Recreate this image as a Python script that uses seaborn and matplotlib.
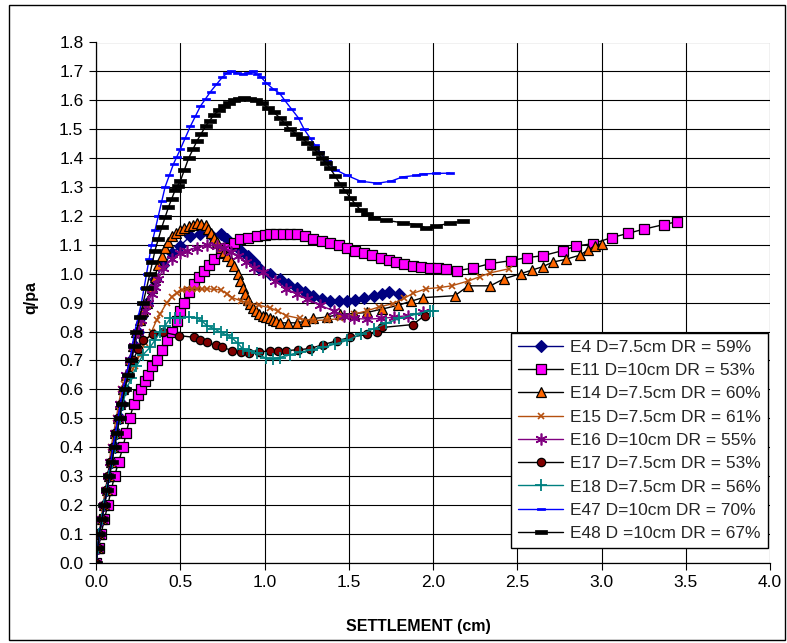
import numpy as np
import pandas as pd
import matplotlib
matplotlib.use("Agg")
import matplotlib.pyplot as plt
from matplotlib.patches import Rectangle
import seaborn as sns

# ---- load-settlement test series (settlement in cm, normalised pressure q/pa) ----
labels = [
    "E4 D=7.5cm DR = 59%",
    "E11 D=10cm DR = 53%",
    "E14 D=7.5cm DR = 60%",
    "E15 D=7.5cm DR = 61%",
    "E16 D=10cm DR = 55%",
    "E17 D=7.5cm DR = 53%",
    "E18 D=7.5cm DR = 56%",
    "E47 D=10cm DR = 70%",
    "E48 D =10cm DR = 67%",
]

e4_x = [0, 0.01, 0.02, 0.035, 0.05, 0.065, 0.08, 0.095, 0.11, 0.125, 0.14, 0.155, 0.17, 0.19, 0.21, 0.23, 0.25,
        0.27, 0.3, 0.33, 0.35, 0.4, 0.45, 0.5, 0.56, 0.62, 0.68, 0.74, 0.78, 0.82, 0.86, 0.9, 0.94, 0.97,
        1.03, 1.09, 1.14, 1.19, 1.24, 1.29, 1.34, 1.39, 1.44, 1.49, 1.54, 1.59, 1.65, 1.7, 1.74, 1.8]
e4_y = [0, 0.05, 0.1, 0.15, 0.2, 0.25, 0.3, 0.35, 0.4, 0.45, 0.5, 0.55, 0.6, 0.65, 0.7, 0.75, 0.8,
        0.85, 0.9, 0.95, 0.98, 1.03, 1.07, 1.097, 1.13, 1.137, 1.135, 1.137, 1.12, 1.1, 1.08, 1.06, 1.04, 1.02,
        1.0, 0.98, 0.965, 0.95, 0.935, 0.924, 0.912, 0.907, 0.905, 0.907, 0.91, 0.917, 0.924, 0.93, 0.935, 0.93]

e11_x = [0, 0.015, 0.03, 0.05, 0.07, 0.09, 0.11, 0.135, 0.16, 0.18, 0.2, 0.225, 0.25, 0.27, 0.29, 0.31, 0.335,
         0.36, 0.39, 0.42, 0.45, 0.48, 0.5, 0.52, 0.55, 0.58, 0.61, 0.64, 0.67, 0.7, 0.74, 0.78, 0.82, 0.855,
         0.9, 0.955, 1.0, 1.03, 1.07, 1.11, 1.15, 1.19, 1.24, 1.29, 1.34, 1.39, 1.44, 1.49, 1.54, 1.59, 1.64,
         1.69, 1.74, 1.78, 1.83, 1.88, 1.93, 1.98, 2.03, 2.08, 2.14, 2.24, 2.34, 2.46, 2.56, 2.65, 2.77, 2.85,
         2.95, 3.06, 3.16, 3.25, 3.37, 3.45]
e11_y = [0, 0.05, 0.1, 0.15, 0.2, 0.25, 0.3, 0.35, 0.4, 0.45, 0.5, 0.55, 0.58, 0.6, 0.63, 0.65, 0.68,
         0.7, 0.735, 0.77, 0.8, 0.837, 0.87, 0.9, 0.935, 0.965, 0.99, 1.01, 1.03, 1.05, 1.07, 1.09, 1.105, 1.12,
         1.125, 1.13, 1.135, 1.137, 1.138, 1.138, 1.137, 1.137, 1.13, 1.12, 1.112, 1.105, 1.098, 1.09, 1.08, 1.07, 1.063,
         1.056, 1.048, 1.04, 1.033, 1.027, 1.023, 1.02, 1.018, 1.017, 1.01, 1.02, 1.035, 1.045, 1.056, 1.062, 1.08, 1.096,
         1.104, 1.125, 1.14, 1.154, 1.17, 1.18]

e14_x = [0, 0.01, 0.02, 0.035, 0.05, 0.065, 0.08, 0.09, 0.1, 0.115, 0.13, 0.145, 0.16, 0.18, 0.2, 0.22, 0.24,
         0.26, 0.28, 0.3, 0.33, 0.35, 0.37, 0.39, 0.41, 0.43, 0.45, 0.475, 0.5, 0.525, 0.55, 0.575, 0.6, 0.625,
         0.65, 0.665, 0.68, 0.7, 0.72, 0.74, 0.76, 0.78, 0.8, 0.82, 0.84, 0.855, 0.87, 0.885, 0.9, 0.915, 0.93,
         0.95, 0.97, 0.99, 1.01, 1.03, 1.05, 1.07, 1.09, 1.14, 1.19, 1.24, 1.29, 1.37, 1.45, 1.53, 1.61, 1.7,
         1.79, 1.87, 1.94, 2.13, 2.21, 2.34, 2.42, 2.52, 2.59, 2.65, 2.71, 2.79, 2.87, 2.92, 2.96, 3.0]
e14_y = [0, 0.05, 0.1, 0.15, 0.2, 0.25, 0.3, 0.35, 0.4, 0.45, 0.5, 0.55, 0.6, 0.65, 0.7, 0.75, 0.8,
         0.84, 0.87, 0.9, 0.95, 0.99, 1.03, 1.06, 1.09, 1.11, 1.13, 1.14, 1.15, 1.158, 1.165, 1.17, 1.175, 1.172,
         1.17, 1.155, 1.14, 1.125, 1.11, 1.09, 1.075, 1.06, 1.045, 1.025, 1.0, 0.975, 0.95, 0.93, 0.91, 0.895, 0.88,
         0.87, 0.86, 0.855, 0.85, 0.845, 0.84, 0.835, 0.83, 0.83, 0.83, 0.835, 0.845, 0.85, 0.86, 0.862, 0.866, 0.878,
         0.89, 0.905, 0.917, 0.924, 0.958, 0.958, 0.982, 1.0, 1.013, 1.024, 1.04, 1.05, 1.064, 1.082, 1.096, 1.104]

e15_x = [0, 0.01, 0.02, 0.03, 0.04, 0.055, 0.07, 0.08, 0.09, 0.105, 0.12, 0.135, 0.15, 0.165, 0.18, 0.205, 0.23,
         0.26, 0.29, 0.33, 0.36, 0.38, 0.42, 0.45, 0.48, 0.51, 0.54, 0.57, 0.6, 0.63, 0.66, 0.7, 0.74, 0.78,
         0.81, 0.86, 0.9, 0.97, 1.03, 1.08, 1.13, 1.21, 1.29, 1.37, 1.45, 1.53, 1.61, 1.68, 1.76, 1.83, 1.88,
         1.96, 2.04, 2.11, 2.21, 2.28, 2.34, 2.45]
e15_y = [0, 0.05, 0.1, 0.15, 0.2, 0.25, 0.3, 0.35, 0.4, 0.45, 0.5, 0.55, 0.6, 0.62, 0.64, 0.66, 0.68,
         0.72, 0.76, 0.8, 0.84, 0.86, 0.9, 0.92, 0.934, 0.942, 0.948, 0.948, 0.948, 0.946, 0.948, 0.946, 0.944, 0.93,
         0.917, 0.906, 0.9, 0.89, 0.883, 0.87, 0.855, 0.845, 0.838, 0.84, 0.845, 0.86, 0.872, 0.885, 0.896, 0.915, 0.932,
         0.948, 0.952, 0.958, 0.975, 0.99, 1.003, 1.017]

e16_x = [0, 0.01, 0.02, 0.035, 0.05, 0.06, 0.07, 0.085, 0.1, 0.115, 0.13, 0.145, 0.16, 0.18, 0.2, 0.225, 0.25,
         0.27, 0.29, 0.31, 0.33, 0.35, 0.37, 0.4, 0.45, 0.5, 0.54, 0.6, 0.66, 0.72, 0.76, 0.8, 0.84, 0.89,
         0.94, 0.99, 1.06, 1.13, 1.19, 1.25, 1.33, 1.41, 1.47, 1.53, 1.61, 1.69, 1.77, 1.85, 1.94]
e16_y = [0, 0.05, 0.1, 0.15, 0.2, 0.25, 0.3, 0.35, 0.4, 0.45, 0.5, 0.55, 0.6, 0.65, 0.7, 0.75, 0.8,
         0.84, 0.87, 0.9, 0.93, 0.955, 0.98, 1.02, 1.05, 1.07, 1.08, 1.09, 1.1, 1.095, 1.09, 1.075, 1.06, 1.04,
         1.02, 1.005, 0.975, 0.948, 0.93, 0.914, 0.89, 0.872, 0.855, 0.845, 0.843, 0.845, 0.85, 0.855, 0.866]

e17_x = [0, 0.01, 0.02, 0.035, 0.05, 0.06, 0.07, 0.085, 0.1, 0.115, 0.13, 0.15, 0.17, 0.195, 0.22, 0.25, 0.28,
         0.34, 0.4, 0.49, 0.58, 0.62, 0.66, 0.71, 0.75, 0.81, 0.86, 0.91, 0.97, 1.03, 1.08, 1.13, 1.2, 1.27,
         1.35, 1.43, 1.51, 1.61, 1.67, 1.7, 1.88, 1.95]
e17_y = [0, 0.05, 0.1, 0.15, 0.2, 0.25, 0.3, 0.35, 0.4, 0.45, 0.5, 0.55, 0.6, 0.65, 0.7, 0.74, 0.77,
         0.79, 0.797, 0.786, 0.78, 0.77, 0.762, 0.752, 0.745, 0.734, 0.728, 0.724, 0.728, 0.734, 0.734, 0.734, 0.737, 0.741,
         0.755, 0.768, 0.78, 0.79, 0.797, 0.814, 0.824, 0.855]

e18_x = [0, 0.01, 0.02, 0.035, 0.05, 0.065, 0.08, 0.095, 0.11, 0.125, 0.14, 0.16, 0.18, 0.21, 0.24, 0.28, 0.32,
         0.35, 0.38, 0.41, 0.44, 0.47, 0.5, 0.55, 0.6, 0.63, 0.66, 0.7, 0.74, 0.78, 0.81, 0.84, 0.87, 0.91,
         0.955, 1.01, 1.05, 1.09, 1.15, 1.21, 1.28, 1.35, 1.42, 1.49, 1.57, 1.65, 1.72, 1.8, 1.9, 1.98, 2.0]
e18_y = [0, 0.05, 0.1, 0.15, 0.2, 0.25, 0.3, 0.35, 0.4, 0.45, 0.5, 0.55, 0.6, 0.64, 0.68, 0.72, 0.745,
         0.77, 0.797, 0.82, 0.845, 0.848, 0.848, 0.85, 0.848, 0.835, 0.82, 0.81, 0.797, 0.787, 0.776, 0.76, 0.741, 0.732,
         0.724, 0.707, 0.705, 0.71, 0.72, 0.728, 0.737, 0.745, 0.757, 0.769, 0.79, 0.81, 0.828, 0.845, 0.86, 0.872, 0.872]

e47_x = [0, 0.01, 0.02, 0.035, 0.05, 0.065, 0.08, 0.09, 0.1, 0.115, 0.13, 0.145, 0.16, 0.18, 0.2, 0.215, 0.23,
         0.25, 0.27, 0.285, 0.3, 0.315, 0.33, 0.35, 0.37, 0.39, 0.41, 0.435, 0.46, 0.48, 0.5, 0.53, 0.56, 0.59,
         0.62, 0.65, 0.68, 0.715, 0.75, 0.78, 0.8, 0.835, 0.87, 0.9, 0.93, 0.955, 0.98, 1.01, 1.05, 1.09, 1.12,
         1.16, 1.2, 1.235, 1.27, 1.3, 1.33, 1.37, 1.42, 1.49, 1.57, 1.67, 1.75, 1.82, 1.9, 1.94, 2.02, 2.1]
e47_y = [0, 0.05, 0.1, 0.15, 0.2, 0.25, 0.3, 0.35, 0.4, 0.45, 0.5, 0.55, 0.6, 0.65, 0.7, 0.75, 0.8,
         0.85, 0.9, 0.95, 1.0, 1.05, 1.1, 1.15, 1.2, 1.25, 1.3, 1.34, 1.38, 1.405, 1.43, 1.47, 1.51, 1.545,
         1.58, 1.605, 1.63, 1.655, 1.68, 1.695, 1.7, 1.695, 1.69, 1.695, 1.7, 1.69, 1.68, 1.66, 1.64, 1.624, 1.6,
         1.57, 1.54, 1.5, 1.47, 1.445, 1.42, 1.39, 1.36, 1.34, 1.32, 1.313, 1.32, 1.335, 1.34, 1.345, 1.347, 1.348]

e48_x = [0, 0.01, 0.02, 0.035, 0.05, 0.065, 0.08, 0.095, 0.11, 0.125, 0.14, 0.155, 0.17, 0.19, 0.21, 0.225, 0.24,
         0.26, 0.28, 0.3, 0.32, 0.335, 0.35, 0.37, 0.39, 0.41, 0.43, 0.45, 0.47, 0.485, 0.5, 0.525, 0.55, 0.575,
         0.6, 0.625, 0.65, 0.675, 0.7, 0.73, 0.76, 0.79, 0.82, 0.85, 0.88, 0.915, 0.95, 0.985, 1.02, 1.055, 1.09,
         1.12, 1.15, 1.185, 1.22, 1.255, 1.29, 1.315, 1.34, 1.365, 1.39, 1.42, 1.45, 1.48, 1.51, 1.54, 1.57, 1.61,
         1.65, 1.72, 1.82, 1.9, 1.96, 2.02, 2.1, 2.18]
e48_y = [0, 0.05, 0.1, 0.15, 0.2, 0.25, 0.3, 0.35, 0.4, 0.45, 0.5, 0.55, 0.6, 0.65, 0.7, 0.75, 0.8,
         0.85, 0.9, 0.95, 1.0, 1.04, 1.08, 1.12, 1.16, 1.195, 1.23, 1.26, 1.29, 1.305, 1.32, 1.36, 1.4, 1.43,
         1.46, 1.485, 1.51, 1.53, 1.55, 1.565, 1.58, 1.59, 1.6, 1.605, 1.607, 1.605, 1.6, 1.59, 1.575, 1.558, 1.54,
         1.52, 1.5, 1.485, 1.47, 1.452, 1.435, 1.418, 1.4, 1.383, 1.365, 1.337, 1.31, 1.285, 1.262, 1.24, 1.22, 1.205,
         1.193, 1.185, 1.176, 1.17, 1.158, 1.165, 1.175, 1.182]

xs = [e4_x, e11_x, e14_x, e15_x, e16_x, e17_x, e18_x, e47_x, e48_x]
ys = [e4_y, e11_y, e14_y, e15_y, e16_y, e17_y, e18_y, e47_y, e48_y]

x_ticks = [0.0, 0.5, 1.0, 1.5, 2.0, 2.5, 3.0, 3.5, 4.0]
y_ticks = [0.0, 0.1, 0.2, 0.3, 0.4, 0.5, 0.6, 0.7, 0.8, 0.9, 1.0, 1.1, 1.2, 1.3, 1.4, 1.5, 1.6, 1.7, 1.8]

# ---- style of each series: line colour, marker, face, edge, size ----
dash = [(-1, -0.3), (1, -0.3), (1, 0.3), (-1, 0.3), (-1, -0.3)]
styles = [
    dict(color="#000080", marker="D", mfc="#000080", mec="#000080", ms=6.0, mew=0.8),
    dict(color="#000000", marker="s", mfc="#FF00FF", mec="#000000", ms=6.5, mew=0.9),
    dict(color="#000000", marker="^", mfc="#FF6600", mec="#000000", ms=7.5, mew=0.9),
    dict(color="#B5500F", marker="x", mfc="#B5500F", mec="#B5500F", ms=5.0, mew=1.2),
    dict(color="#800080", marker=(6, 2, 0), mfc="#800080", mec="#800080", ms=8.5, mew=1.2),
    dict(color="#000000", marker="o", mfc="#800000", mec="#000000", ms=6.0, mew=0.9),
    dict(color="#008080", marker="+", mfc="#008080", mec="#008080", ms=8.0, mew=1.3),
    dict(color="#0000FF", marker=dash, mfc="#0000FF", mec="#0000FF", ms=5.5, mew=0.5),
    dict(color="#000000", marker=dash, mfc="#000000", mec="#000000", ms=8.0, mew=0.5),
]

sns.set_theme(style="white")
plt.rcParams["font.family"] = ["Liberation Sans", "DejaVu Sans"]

fig = plt.figure(figsize=(7.87, 6.43), dpi=100)
ax = fig.add_axes([96 / 787, 1 - 562.7 / 643, 674 / 787, 520.2 / 643])

for lab, x, y, st in zip(labels, xs, ys, styles):
    df = pd.DataFrame({"settlement": x, "qpa": y})
    sns.lineplot(data=df, x="settlement", y="qpa", ax=ax, sort=False, estimator=None,
                 color=st["color"], linewidth=1.0, marker=st["marker"],
                 markerfacecolor=st["mfc"], markeredgecolor=st["mec"],
                 markersize=st["ms"], markeredgewidth=st["mew"], label=lab)

ax.set_xlim(0, 4.0)
ax.set_ylim(0, 1.8)
ax.set_xticks(x_ticks)
ax.set_yticks(y_ticks)
ax.set_xticklabels([f"{t:.1f}" for t in x_ticks])
ax.set_yticklabels([f"{t:.1f}" for t in y_ticks])
ax.tick_params(axis="both", which="major", direction="out", length=5, width=0.8,
               color="black", labelsize=12.5, labelcolor="black", pad=4,
               bottom=True, left=True)
ax.grid(True, color="black", linewidth=0.8)
ax.set_axisbelow(True)
for side in ["left", "bottom"]:
    ax.spines[side].set_color("black")
    ax.spines[side].set_linewidth(0.9)
for side in ["top", "right"]:
    ax.spines[side].set_visible(False)

ax.set_xlabel("SETTLEMENT (cm)", fontsize=11.5, fontweight="bold", color="black")
ax.set_ylabel("q/pa", fontsize=11.5, fontweight="bold", color="black")
ax.xaxis.set_label_coords(0.478, -0.108)
ax.yaxis.set_label_coords(-0.085, 0.51)

leg = ax.legend(loc="lower right", bbox_to_anchor=(0.997, 0.028), borderaxespad=0,
                fontsize=12.5, frameon=True, fancybox=False, shadow=False, framealpha=1,
                edgecolor="black", handlelength=2.6, handletextpad=0.4,
                labelspacing=0.47, borderpad=0.4, numpoints=1)
leg.get_frame().set_linewidth(1.0)

# chart-area border
fig.patches.append(Rectangle((9 / 787, 3 / 643), 776 / 787, 635 / 643,
                             transform=fig.transFigure, fill=False,
                             edgecolor="black", linewidth=1.0))

fig.savefig("out.png", dpi=100)
